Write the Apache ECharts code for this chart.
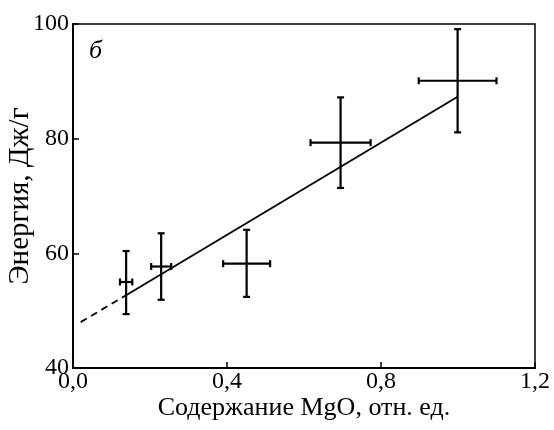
<!DOCTYPE html>
<html>
<head>
<meta charset="utf-8">
<script src="https://cdn.jsdelivr.net/npm/echarts@6/dist/echarts.min.js"></script>
<style>
  html, body { margin: 0; padding: 0; background: #fff; }
  #chart { width: 554px; height: 430px; }
</style>
</head>
<body>
<div id="chart"></div>
<script>
// точки с погрешностями
var mgo = [0.138, 0.229, 0.451, 0.695, 0.999];
var energy = [55.0, 57.7, 58.2, 79.3, 90.1];
var mgoErr = [0.016, 0.026, 0.061, 0.078, 0.101];
var energyLow = [49.4, 51.9, 52.4, 71.4, 81.1];
var energyHigh = [60.4, 63.5, 64.1, 87.2, 99.1];

// аппроксимация
var fitSolidX = [0.138, 0.999];
var fitSolidY = [52.7, 87.3];
var fitDashX = [0.02, 0.138];
var fitDashY = [48.0, 52.7];

var xTicks = [0, 0.4, 0.8, 1.2];
var yTicks = [40, 60, 80, 100];

var font = 'Liberation Serif';

var errData = [];
for (var i = 0; i < mgo.length; i++) {
  errData.push([mgo[i], energy[i], mgo[i] - mgoErr[i], mgo[i] + mgoErr[i], energyLow[i], energyHigh[i]]);
}

function pairs(xs, ys) {
  var out = [];
  for (var i = 0; i < xs.length; i++) out.push([xs[i], ys[i]]);
  return out;
}

var chart = echarts.init(document.getElementById('chart'));
var option = {
  animation: false,
  grid: {
    left: 73, right: 19, top: 24, bottom: 62,
    containLabel: false, outerBoundsMode: 'none',
    show: true, borderColor: '#000', borderWidth: 1.5
  },
  graphic: [{
    type: 'text', left: 89, top: 38,
    style: { text: 'б', font: 'italic 26px "Liberation Serif"', fill: '#000' }
  }],
  xAxis: {
    type: 'value', min: xTicks[0], max: xTicks[xTicks.length - 1], interval: 0.4,
    name: 'Содержание MgO, отн. ед.', nameLocation: 'middle', nameGap: 27,
    nameMoveOverlap: false,
    nameTextStyle: { fontFamily: font, fontSize: 26, color: '#000' },
    axisLine: { lineStyle: { color: '#000', width: 2 } },
    axisTick: { inside: true, length: 6, lineStyle: { color: '#000', width: 1.5 } },
    axisLabel: {
      fontFamily: font, fontSize: 24, color: '#000', margin: 2,
      formatter: function (v) { return v.toFixed(1).replace('.', ','); }
    },
    splitLine: { show: false }
  },
  yAxis: {
    type: 'value', min: yTicks[0], max: yTicks[yTicks.length - 1], interval: 20,
    name: 'Энергия, Дж/г', nameLocation: 'middle', nameGap: 38, nameRotate: 90,
    nameMoveOverlap: false,
    nameTextStyle: { fontFamily: font, fontSize: 29, color: '#000' },
    axisLine: { lineStyle: { color: '#000', width: 2 } },
    axisTick: { inside: true, length: 6, lineStyle: { color: '#000', width: 1.5 } },
    axisLabel: { fontFamily: font, fontSize: 24, color: '#000', margin: 4 },
    splitLine: { show: false }
  },
  series: [
    {
      type: 'line', data: pairs(fitSolidX, fitSolidY), symbol: 'none',
      lineStyle: { color: '#000', width: 1.8 }
    },
    {
      type: 'line', data: pairs(fitDashX, fitDashY), symbol: 'none',
      lineStyle: { color: '#000', width: 1.8, type: [7, 5] }
    },
    {
      type: 'custom', data: errData,
      encode: { x: 0, y: 1 },
      renderItem: function (params, api) {
        var c = api.coord([api.value(0), api.value(1)]);
        var l = api.coord([api.value(2), api.value(1)]);
        var r = api.coord([api.value(3), api.value(1)]);
        var lo = api.coord([api.value(0), api.value(4)]);
        var hi = api.coord([api.value(0), api.value(5)]);
        var cap = 3.5;
        var st = { stroke: '#000', lineWidth: 2.2 };
        function ln(x1, y1, x2, y2) {
          return { type: 'line', shape: { x1: x1, y1: y1, x2: x2, y2: y2 }, style: st };
        }
        return {
          type: 'group',
          children: [
            ln(l[0], c[1], r[0], c[1]),
            ln(l[0], c[1] - cap, l[0], c[1] + cap),
            ln(r[0], c[1] - cap, r[0], c[1] + cap),
            ln(c[0], lo[1], c[0], hi[1]),
            ln(c[0] - cap, lo[1], c[0] + cap, lo[1]),
            ln(c[0] - cap, hi[1], c[0] + cap, hi[1])
          ]
        };
      }
    }
  ]
};
chart.setOption(option);
</script>
</body>
</html>
